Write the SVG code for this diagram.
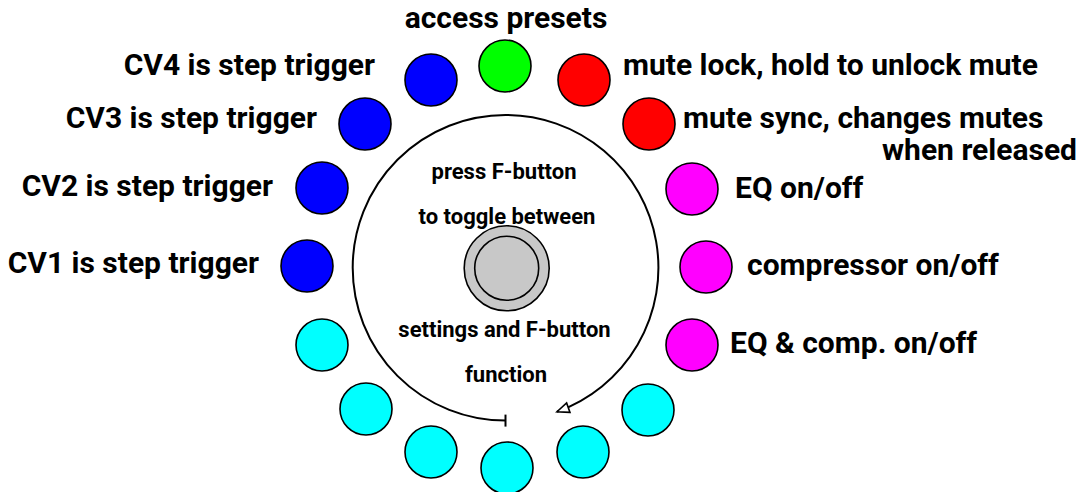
<svg xmlns="http://www.w3.org/2000/svg" width="1081" height="492" viewBox="0 0 1081 492">
<style>
.b{fill:#fff}
circle.led{stroke:#000;stroke-width:1.6}
.blue{fill:#0000ff}.red{fill:#ff0000}.green{fill:#00ff00}.mag{fill:#ff00ff}.cyan{fill:#00ffff}
text{font-family:Roboto,"Liberation Sans",sans-serif;font-weight:bold;fill:#000}
.lbl{font-size:30px}
.ctr{font-size:22px;text-anchor:middle}
.l{text-anchor:end}
</style>
<defs>
<marker id="tee" markerWidth="4" markerHeight="16" refX="2" refY="8" orient="auto" markerUnits="userSpaceOnUse">
<line x1="2" y1="2" x2="2" y2="14" stroke="#000" stroke-width="2"/>
</marker>
<marker id="arr" markerWidth="16" markerHeight="14" refX="14" refY="7" orient="auto" markerUnits="userSpaceOnUse">
<path d="M2,2 L14,7 L2,12 Z" fill="#fff" stroke="#000" stroke-width="1.6"/>
</marker>
</defs>
<rect class="b" x="0" y="0" width="1081" height="492"/>
<g id="connectors">
<path d="M505.5,420.6 A152.8,152.8 0 0 1 505.5,115 A152.8,152.8 0 0 1 557,411.7" fill="none" stroke="#000" stroke-width="2" marker-start="url(#tee)" marker-end="url(#arr)"/>
</g>
<g id="knob">
<circle cx="506.7" cy="268.3" r="42.5" fill="#c8c8c8" stroke="#000" stroke-width="1.6"/>
<circle cx="506.7" cy="268.3" r="32" fill="#c8c8c8" stroke="#000" stroke-width="1.6"/>
</g>
<g id="center-text">
<text class="ctr" x="504" y="179">press F-button</text>
<text class="ctr" x="507" y="224">to toggle between</text>
<text class="ctr" x="504.5" y="337">settings and F-button</text>
<text class="ctr" x="506" y="382">function</text>
</g>
<g id="led-0"><circle class="led green" cx="505" cy="66" r="26"/><text class="lbl" x="506" y="28" text-anchor="middle">access presets</text></g>
<g id="led-1"><circle class="led red" cx="584" cy="80" r="26"/><text class="lbl" x="623" y="75">mute lock, hold to unlock mute</text></g>
<g id="led-2"><circle class="led red" cx="649" cy="124" r="26"/><text class="lbl" x="683" y="128">mute sync, changes mutes</text><text class="lbl l" x="1077" y="160">when released</text></g>
<g id="led-3"><circle class="led mag" cx="692" cy="189" r="26"/><text class="lbl" x="735" y="198">EQ on/off</text></g>
<g id="led-4"><circle class="led mag" cx="706" cy="267" r="26"/><text class="lbl" x="747" y="275">compressor on/off</text></g>
<g id="led-5"><circle class="led mag" cx="692" cy="345" r="26"/><text class="lbl" x="730" y="353">EQ &amp; comp. on/off</text></g>
<g id="led-6"><circle class="led cyan" cx="648" cy="410" r="26"/></g>
<g id="led-7"><circle class="led cyan" cx="583" cy="452" r="26"/></g>
<g id="led-8"><circle class="led cyan" cx="507" cy="468" r="26"/></g>
<g id="led-9"><circle class="led cyan" cx="431" cy="452" r="26"/></g>
<g id="led-10"><circle class="led cyan" cx="366" cy="409" r="26"/></g>
<g id="led-11"><circle class="led cyan" cx="322" cy="345" r="26"/></g>
<g id="led-12"><circle class="led blue" cx="307" cy="266" r="26"/><text class="lbl l" x="259" y="273">CV1 is step trigger</text></g>
<g id="led-13"><circle class="led blue" cx="322" cy="188" r="26"/><text class="lbl l" x="273" y="196">CV2 is step trigger</text></g>
<g id="led-14"><circle class="led blue" cx="365" cy="124" r="26"/><text class="lbl l" x="317" y="128">CV3 is step trigger</text></g>
<g id="led-15"><circle class="led blue" cx="431" cy="80" r="26"/><text class="lbl l" x="375" y="75">CV4 is step trigger</text></g>
</svg>
